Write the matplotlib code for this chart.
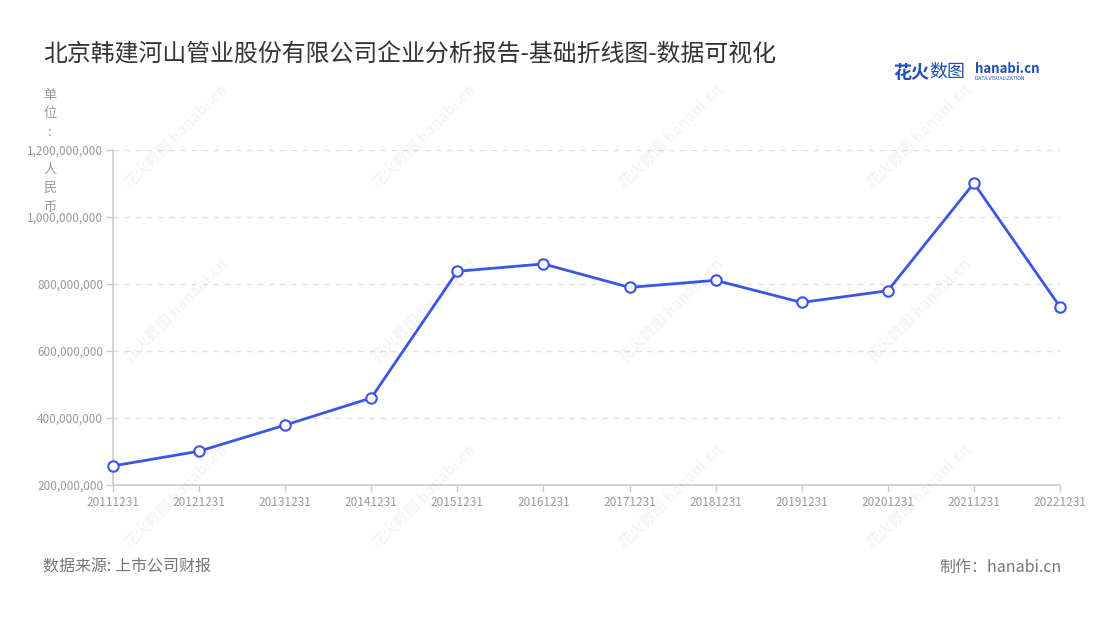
import numpy as np
import matplotlib
matplotlib.use('Agg')
import matplotlib.pyplot as plt
from matplotlib.ticker import FuncFormatter

plt.rcParams['font.family'] = ['Noto Sans CJK SC', 'DejaVu Sans']

# data
dates = ['20111231', '20121231', '20131231', '20141231', '20151231', '20161231',
         '20171231', '20181231', '20191231', '20201231', '20211231', '20221231']
values = [257e6, 301e6, 379e6, 460e6, 838e6, 860e6,
          790e6, 811e6, 745e6, 780e6, 1101e6, 732e6]
y_ticks = [200e6, 400e6, 600e6, 800e6, 1000e6, 1200e6]

title = '北京韩建河山管业股份有限公司企业分析报告-基础折线图-数据可视化'
unit_chars = ['单', '位', ':', '', '人', '民', '币']

fig = plt.figure(figsize=(11, 6.2), dpi=100)
ax = fig.add_axes([0.1027, 0.2177, 0.8609, 0.5403])

# faint watermarks
for wx in [0.16, 0.385, 0.61, 0.835]:
    for wy in [0.78, 0.50, 0.20]:
        fig.text(wx, wy, '花火数图 hanabi.cn', rotation=45, fontsize=11,
                 color='#000000', alpha=0.045, ha='center', va='center',
                 fontweight='bold', zorder=0)

x = np.arange(len(dates))
ax.plot(x, values, color='#3b55e6', linewidth=2, marker='o', markersize=7.5,
        markerfacecolor='white', markeredgecolor='#3b55e6', markeredgewidth=1.5,
        zorder=5, clip_on=False)

ax.set_xlim(0, len(dates) - 1)
ax.set_ylim(y_ticks[0], y_ticks[-1])
ax.set_xticks(x)
ax.set_xticklabels(dates)
ax.set_yticks(y_ticks)
ax.yaxis.set_major_formatter(FuncFormatter(lambda v, p: f'{int(v):,}'))

ax.tick_params(axis='both', labelsize=8.5, labelcolor='#999999', color='#cccccc',
               length=5, width=1)
ax.tick_params(axis='x', pad=3)
ax.tick_params(axis='y', pad=2)

for side in ['top', 'right']:
    ax.spines[side].set_visible(False)
for side in ['left', 'bottom']:
    ax.spines[side].set_color('#cccccc')
    ax.spines[side].set_linewidth(1.2)

ax.grid(axis='y', linestyle=(0, (4, 4)), color='#e0e0e0', linewidth=1)
ax.grid(axis='x', visible=False)
ax.set_axisbelow(True)
ax.patch.set_alpha(0)

# title
fig.text(43 / 1100, 1 - 55 / 620, title, fontsize=17.2, color='#333333',
         ha='left', va='center')

# unit label, stacked vertically
for i, ch in enumerate(unit_chars):
    if ch:
        fig.text(50 / 1100, 1 - (95 + i * 18.7) / 620, ch, fontsize=9.5,
                 color='#999999', ha='center', va='center')

# logo
fig.text(893 / 1100, 1 - 72 / 620, '花火', fontsize=13, fontweight='bold',
         color='#1f4fb5', ha='left', va='center')
fig.text(929 / 1100, 1 - 72 / 620, '数图', fontsize=13,
         color='#1f4fb5', ha='left', va='center')
fig.text(975 / 1100, 1 - 69 / 620, 'hanabi.cn', fontsize=9.5, fontweight='bold',
         color='#1f4fb5', ha='left', va='center')
fig.text(975 / 1100, 1 - 79 / 620, 'DATA VISUALIZATION', fontsize=3.6,
         color='#1f4fb5', ha='left', va='center')

# footer
fig.text(43 / 1100, 1 - 567 / 620, '数据来源: 上市公司财报', fontsize=11.5,
         color='#777777', ha='left', va='center')
fig.text(1062 / 1100, 1 - 567 / 620, '制作：hanabi.cn', fontsize=11.5,
         color='#777777', ha='right', va='center')

fig.savefig('out.png', dpi=100, facecolor='white')
